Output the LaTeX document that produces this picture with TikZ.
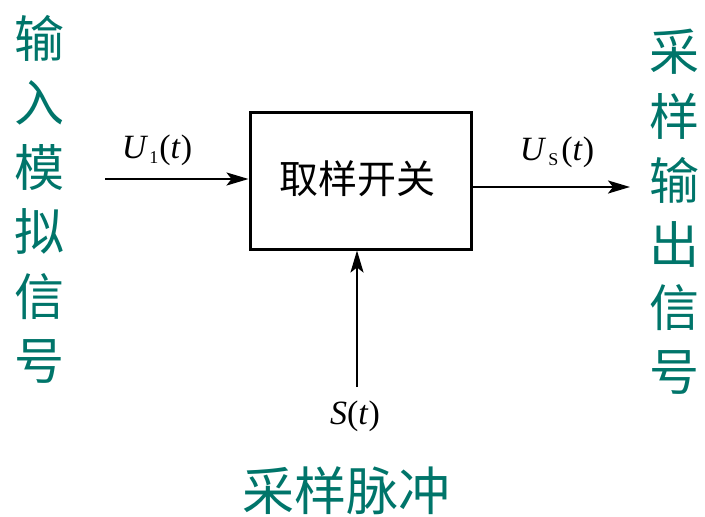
\documentclass[tikz,border=0pt]{standalone}
\usepackage{fontspec}
\setmainfont{Liberation Serif}
\newfontfamily\cjk{Noto Sans CJK SC}
\usetikzlibrary{arrows.meta}
\definecolor{teal1}{RGB}{0,117,106}
\begin{document}
\begin{tikzpicture}[x=1pt,y=-1pt,
  greentxt/.style={text=teal1,font=\cjk\fontsize{50}{50}\selectfont,inner sep=0pt},
  vchar/.style={greentxt},
  blockbox/.style={draw,line width=3pt,inner sep=0pt},
  conn/.style={line width=2.4pt,-{Stealth[length=22pt,width=13pt,inset=5pt]}},
  lab/.style={font=\fontsize{34}{34}\selectfont,inner sep=0pt}]
\useasboundingbox (0,0) rectangle (705,517);
\node[blockbox,minimum width=221pt,minimum height=137pt] (box) at (360.5,180.5) {};
\node[font=\cjk\fontsize{39}{39}\selectfont,inner sep=0pt] (boxtxt) at (357,179) {取样开关};
\coordinate (inl) at (105,179);
\coordinate (outr) at (630,187);
\coordinate (sbot) at (357,387);
\draw[conn] (inl) -- (box.west |- inl);
\draw[conn] (box.east |- outr) -- (outr);
\draw[conn] (sbot) -- (box.south -| sbot);
\node[lab] (u1) at (157,150) {\textit{U}\kern1pt\raisebox{-5pt}{\fontsize{18}{18}\selectfont 1}\kern1pt(\textit{t})};
\node[lab] (us) at (557,152) {\textit{U}\kern2pt\raisebox{-5pt}{\fontsize{18}{18}\selectfont S}\kern3pt(\textit{t})};
\node[lab] (st) at (355,416) {\textit{S}(\textit{t})};
% left vertical text
\foreach \c [count=\i] in {输,入,模,拟,信,号}{
  \node[vchar] (l\i) at (39,{38+64.6*(\i-1)}) {\c};
}
\foreach \c [count=\i] in {采,样,输,出,信,号}{
  \node[vchar] (r\i) at (674,{52+64*(\i-1)}) {\c};
}
\node[greentxt,font=\cjk\fontsize{52}{52}\selectfont] (bot) at (346,491) {采样脉冲};
\end{tikzpicture}
\end{document}
